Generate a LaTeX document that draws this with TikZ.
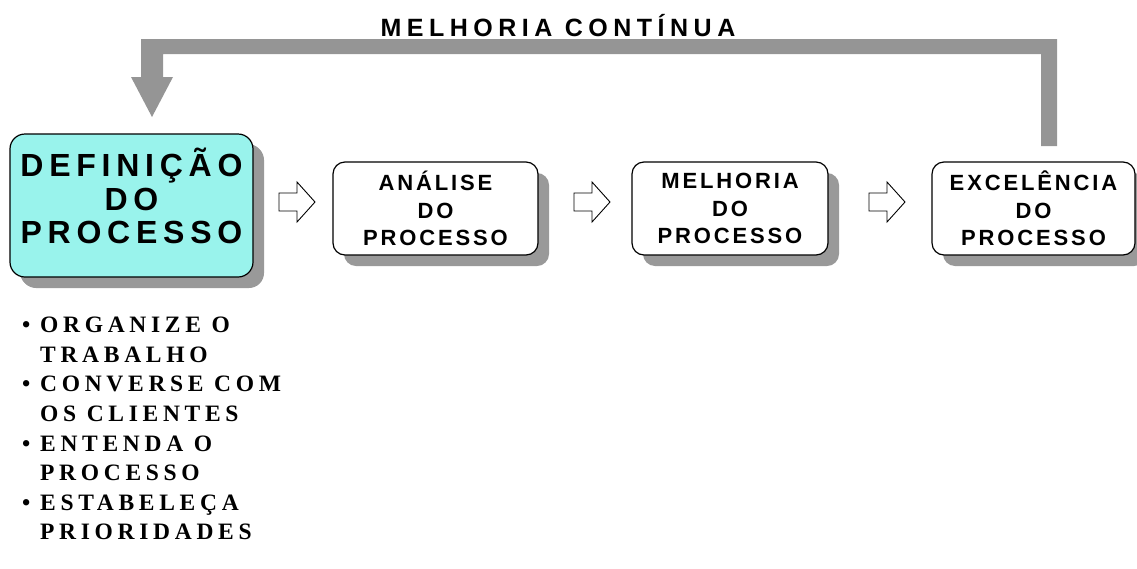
\documentclass[tikz,border=0pt]{standalone}
\usepackage{fontspec}
\setmainfont{Liberation Serif}
\setsansfont{Liberation Sans}
\newfontfamily\hdfont[LetterSpace=22]{Liberation Sans}
\newfontfamily\boxfont[LetterSpace=13]{Liberation Sans}
\newfontfamily\bigfont[LetterSpace=18]{Liberation Sans}
\newfontfamily\listfont[LetterSpace=20]{Liberation Serif}
\usetikzlibrary{shadows}
\definecolor{loopgray}{HTML}{959595}
\definecolor{shadowgray}{HTML}{999999}
\definecolor{cyanfill}{HTML}{99F3EC}
\tikzset{
  stagebox/.style={draw=black, line width=1.2pt, fill=white, rounded corners=12pt,
    align=center, inner sep=0pt,
    drop shadow={shadow xshift=11pt, shadow yshift=-11pt, fill=shadowgray, opacity=1},
    font=\boxfont\bfseries\fontsize{22}{27.5}\selectfont},
  firstbox/.style={stagebox, fill=cyanfill, rounded corners=15pt,
    drop shadow={shadow xshift=10pt, shadow yshift=-10pt, fill=shadowgray, opacity=1}},
  firsttext/.style={align=center, inner sep=0pt,
    font=\bigfont\bfseries\fontsize{32}{33.5}\selectfont},
  hollowarrow/.style={draw=black, line width=0.9pt, fill=white, line join=miter},
  bullet/.style={anchor=north west, align=left, inner sep=0pt,
    font=\listfont\bfseries\fontsize{23.5}{29.6}\selectfont},
}
\newcommand{\dotmark}{\makebox[18pt][l]{\textbullet}}
\newcommand{\dotgap}{\hspace*{18pt}}
\begin{document}
\begin{tikzpicture}[x=1pt, y=-1pt]
\useasboundingbox (0,0) rectangle (1137,568);

% title of the feedback loop
\node[font=\hdfont\bfseries\fontsize{25}{25}\selectfont] (title) at (558,26) {MELHORIA CONTÍNUA};

% grey return path with its arrow head
\fill[loopgray] (1057,146) -- (1057,39) -- (141,39) -- (141,77) -- (131,77)
  -- (152,117) -- (173,77) -- (163,77) -- (163,54) -- (1041,54) -- (1041,146) -- cycle;

% stages
\node[firstbox, minimum width=243pt, minimum height=143pt] (def) at (131.5,205.5) {};
\node[firsttext] (deftext) at (131.5,196) {DEFINIÇÃO\\DO\\PROCESSO};
\node[stagebox, minimum width=205pt, minimum height=93pt] (ana) at (435.5,208.5)
  {ANÁLISE\\DO\\PROCESSO};
\node[stagebox, minimum width=196pt, minimum height=93pt] (mel) at (730,208.5)
  {MELHORIA\\DO\\PROCESSO};
\node[stagebox, minimum width=203pt, minimum height=93pt] (exc) at (1033.5,208.5)
  {EXCELÊNCIA\\DO\\PROCESSO};

% hollow arrows between the stages
\foreach \cx in {279,574,869}{
  \draw[hollowarrow] (\cx,193) -- (\cx+18,193) -- (\cx+18,182) -- (\cx+36,202)
    -- (\cx+18,222) -- (\cx+18,211) -- (\cx,211) -- cycle;
}

% steps of the first stage
\node[bullet] (steps) at (22,317)
  {\dotmark ORGANIZE O\\\dotgap TRABALHO\\
   \dotmark CONVERSE COM\\\dotgap OS CLIENTES\\
   \dotmark ENTENDA O\\\dotgap PROCESSO\\
   \dotmark ESTABELEÇA\\\dotgap PRIORIDADES};
\end{tikzpicture}
\end{document}
